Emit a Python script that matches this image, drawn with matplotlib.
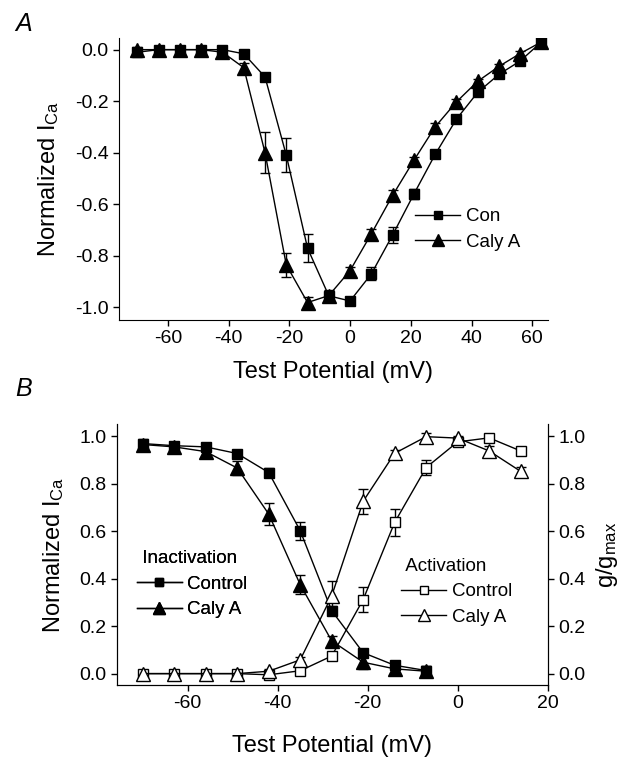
import numpy as np
import matplotlib
matplotlib.use("Agg")
import matplotlib.pyplot as plt

plt.rcParams['font.family'] = ['Liberation Sans', 'DejaVu Sans']
plt.rcParams['mathtext.default'] = 'regular'
plt.rcParams['axes.unicode_minus'] = False

# ---- panel A: I-V relation ----
v_iv = [-70, -63, -56, -49, -42, -35, -28, -21, -14, -7, 0, 7, 14, 21, 28, 35, 42, 49, 56, 63]
con_iv = [-0.01, 0.0, 0.0, 0.0, 0.0, -0.016, -0.106, -0.41, -0.771, -0.956, -0.976, -0.871,
          -0.72, -0.561, -0.407, -0.27, -0.166, -0.096, -0.044, 0.03]
con_iv_err = [0.01, 0.01, 0.01, 0.01, 0.01, 0.01, 0.015, 0.067, 0.055, 0.02, 0.015, 0.025,
              0.03, 0.02, 0.015, 0.015, 0.015, 0.01, 0.01, 0.01]
caly_iv = [0.0, 0.0, 0.0, 0.0, -0.01, -0.07, -0.40, -0.836, -0.982, -0.955, -0.858, -0.715,
           -0.566, -0.43, -0.30, -0.203, -0.123, -0.065, -0.015, 0.03]
caly_iv_err = [0.01, 0.01, 0.01, 0.01, 0.02, 0.02, 0.08, 0.045, 0.02, 0.02, 0.015, 0.02,
               0.02, 0.015, 0.015, 0.01, 0.01, 0.01, 0.01, 0.01]

# ---- panel B: inactivation / activation ----
v_inact = [-70, -63, -56, -49, -42, -35, -28, -21, -14, -7]
con_inact = [0.969, 0.96, 0.955, 0.927, 0.847, 0.602, 0.265, 0.088, 0.035, 0.013]
con_inact_err = [0.02, 0.015, 0.015, 0.015, 0.02, 0.038, 0.02, 0.015, 0.02, 0.02]
caly_inact = [0.965, 0.955, 0.935, 0.866, 0.672, 0.375, 0.138, 0.048, 0.02, 0.01]
caly_inact_err = [0.02, 0.02, 0.02, 0.03, 0.045, 0.04, 0.02, 0.03, 0.02, 0.02]

v_act = [-70, -63, -56, -49, -42, -35, -28, -21, -14, -7, 0, 7, 14]
con_act = [0.0, 0.0, 0.0, 0.0, -0.005, 0.012, 0.074, 0.312, 0.637, 0.868, 0.976, 0.993, 0.938]
con_act_err = [0.01, 0.01, 0.01, 0.01, 0.01, 0.01, 0.01, 0.053, 0.056, 0.03, 0.01, 0.01, 0.01]
caly_act = [0.0, 0.0, 0.0, 0.0, 0.01, 0.058, 0.327, 0.726, 0.928, 0.998, 0.992, 0.938, 0.852]
caly_act_err = [0.01, 0.01, 0.01, 0.01, 0.01, 0.01, 0.062, 0.052, 0.015, 0.015, 0.01, 0.02, 0.02]

fig = plt.figure(figsize=(6.29, 7.58), dpi=100)

ebkw = dict(color='black', lw=1.0, elinewidth=1.0, capsize=3.5, capthick=1.0)
SQ = 7.5
TRI = 9.5
TICK_FS = 14
LAB_FS = 17
LEG_FS = 13.5
legkw = dict(frameon=False, fontsize=LEG_FS, title_fontsize=LEG_FS, handlelength=2.4,
             handletextpad=0.3, labelspacing=0.45, borderpad=0, borderaxespad=0,
             markerscale=0.85, bbox_transform=fig.transFigure, loc='upper left')

# panel A
ax1 = fig.add_axes([0.1895, 0.5778, 0.681, 0.372])
c1 = ax1.errorbar(v_iv, con_iv, yerr=con_iv_err, marker='s', ms=SQ, mfc='black', mec='black',
                  **ebkw)
c2 = ax1.errorbar(v_iv, caly_iv, yerr=caly_iv_err, marker='^', ms=TRI, mfc='black',
                  mec='black', **ebkw)
ax1.set_xlim(-76, 65)
ax1.set_ylim(-1.05, 0.045)
ax1.set_xticks([-60, -40, -20, 0, 20, 40, 60])
ax1.set_yticks([0.0, -0.2, -0.4, -0.6, -0.8, -1.0])
ax1.set_yticklabels(['0.0', '-0.2', '-0.4', '-0.6', '-0.8', '-1.0'])
ax1.set_xlabel('Test Potential (mV)', fontsize=LAB_FS, labelpad=10)
ax1.set_ylabel('Normalized I$_{Ca}$', fontsize=LAB_FS, labelpad=10)
ax1.spines['top'].set_visible(False)
ax1.spines['right'].set_visible(False)
ax1.tick_params(direction='out', length=4, width=1, labelsize=TICK_FS)
ax1.legend([c1[0], c2[0]], ['Con', 'Caly A'], bbox_to_anchor=(0.660, 0.7256), **legkw)
fig.text(0.024, 0.968, 'A', fontsize=18, style='italic', va='center')

# panel B
ax2 = fig.add_axes([0.1862, 0.0963, 0.6844, 0.3439])
ax3 = ax2.twinx()
i1 = ax2.errorbar(v_inact, con_inact, yerr=con_inact_err, marker='s', ms=SQ, mfc='black',
                  mec='black', **ebkw)
i2 = ax2.errorbar(v_inact, caly_inact, yerr=caly_inact_err, marker='^', ms=TRI,
                  mfc='black', mec='black', **ebkw)
a1 = ax3.errorbar(v_act, con_act, yerr=con_act_err, marker='s', ms=SQ, mfc='white',
                  mec='black', mew=1.0, **ebkw)
a2 = ax3.errorbar(v_act, caly_act, yerr=caly_act_err, marker='^', ms=TRI, mfc='white',
                  mec='black', mew=1.0, **ebkw)
for ax in (ax2, ax3):
    ax.set_xlim(-75.7, 20)
    ax.set_ylim(-0.048, 1.05)
    ax.set_yticks([0.0, 0.2, 0.4, 0.6, 0.8, 1.0])
    ax.set_yticklabels(['0.0', '0.2', '0.4', '0.6', '0.8', '1.0'])
    ax.spines['top'].set_visible(False)
    ax.tick_params(direction='out', length=4, width=1, labelsize=TICK_FS)
ax2.set_xticks([-60, -40, -20, 0, 20])
ax2.set_xlabel('Test Potential (mV)', fontsize=LAB_FS, labelpad=16)
ax2.set_ylabel('Normalized I$_{Ca}$', fontsize=LAB_FS, labelpad=10)
ax3.set_ylabel('g/g$_{max}$', fontsize=LAB_FS, labelpad=6)

leg1 = ax2.legend([i1[0], i2[0]], ['Control', 'Caly A'], title=' Inactivation',
                  bbox_to_anchor=(0.2173, 0.2744), **legkw)
leg1._legend_box.align = 'left'
ax2.add_artist(leg1)
leg2 = ax3.legend([a1[0], a2[0]], ['Control', 'Caly A'], title=' Activation',
                  bbox_to_anchor=(0.6378, 0.2642), **legkw)
leg2._legend_box.align = 'left'
fig.text(0.024, 0.487, 'B', fontsize=18, style='italic', va='center')

fig.savefig('out.png', dpi=100)
